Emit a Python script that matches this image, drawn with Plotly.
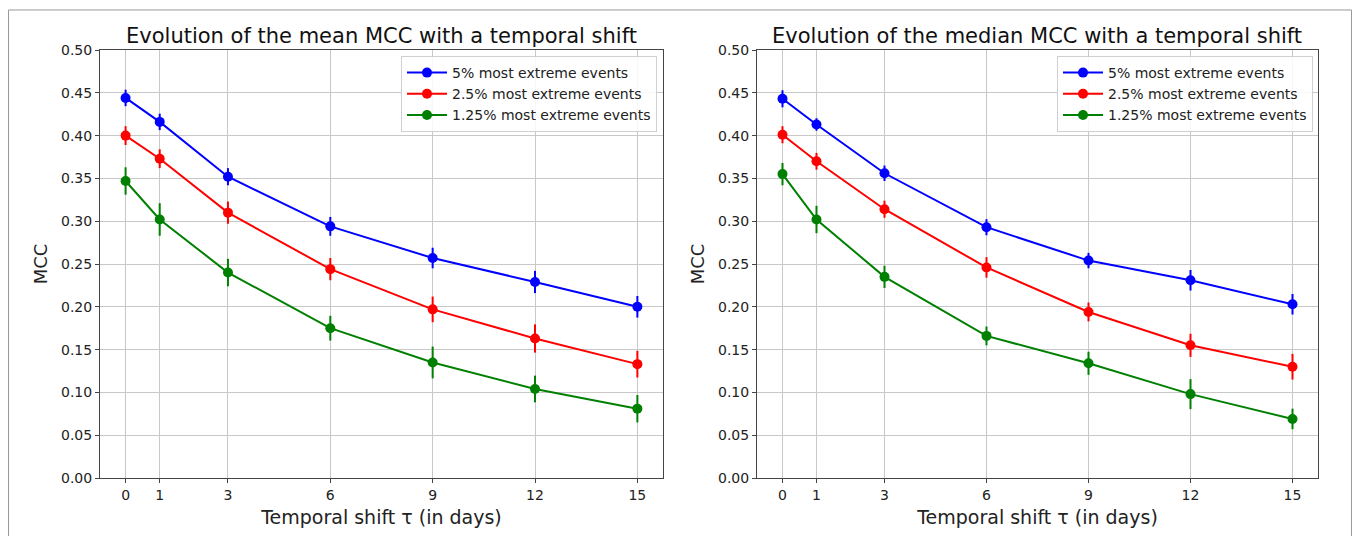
import plotly.graph_objects as go

shifts = [0, 1, 3, 6, 9, 12, 15]
tick_labels = ["0", "1", "3", "6", "9", "12", "15"]
series_names = ["5% most extreme events", "2.5% most extreme events", "1.25% most extreme events"]
colors = ["#0000ff", "#ff0000", "#008000"]

mean_5 = [0.444, 0.416, 0.352, 0.294, 0.257, 0.229, 0.200]
mean_25 = [0.400, 0.373, 0.310, 0.244, 0.197, 0.163, 0.133]
mean_125 = [0.347, 0.302, 0.240, 0.175, 0.135, 0.104, 0.081]
mean_5_err = [0.0096, 0.0096, 0.010, 0.011, 0.012, 0.013, 0.0126]
mean_25_err = [0.011, 0.011, 0.013, 0.013, 0.015, 0.0165, 0.0156]
mean_125_err = [0.016, 0.019, 0.016, 0.0145, 0.0186, 0.0156, 0.016]

median_5 = [0.443, 0.413, 0.356, 0.293, 0.254, 0.231, 0.203]
median_25 = [0.401, 0.370, 0.314, 0.246, 0.194, 0.155, 0.130]
median_125 = [0.355, 0.302, 0.235, 0.166, 0.134, 0.098, 0.069]
median_5_err = [0.010, 0.0073, 0.009, 0.0094, 0.009, 0.012, 0.012]
median_25_err = [0.010, 0.0098, 0.010, 0.012, 0.011, 0.0135, 0.015]
median_125_err = [0.013, 0.016, 0.013, 0.011, 0.0135, 0.0175, 0.012]

titles = ["Evolution of the mean MCC with a temporal shift",
          "Evolution of the median MCC with a temporal shift"]

panels = [
    ([mean_5, mean_25, mean_125], [mean_5_err, mean_25_err, mean_125_err], "x", "y"),
    ([median_5, median_25, median_125], [median_5_err, median_25_err, median_125_err], "x2", "y2"),
]

FONT = "DejaVu Sans, Verdana, sans-serif"
fig = go.Figure()
for p, (vals, errs, xa, ya) in enumerate(panels):
    for i in range(3):
        fig.add_trace(go.Scatter(
            x=shifts, y=vals[i], mode="lines+markers", name=series_names[i],
            legend="legend" if p == 0 else "legend2",
            line=dict(color=colors[i], width=2),
            marker=dict(color=colors[i], size=10, symbol="circle"),
            error_y=dict(type="data", array=errs[i], color=colors[i], thickness=2, width=0),
            xaxis=xa, yaxis=ya,
        ))

axis_common = dict(
    showline=True, mirror=True, linecolor="#444", linewidth=1,
    showgrid=True, gridcolor="#c8c8c8", gridwidth=1, zeroline=False,
    ticks="outside", ticklen=4, tickcolor="#444",
    tickfont=dict(family=FONT, size=14, color="#222"),
)
xcommon = dict(axis_common, range=[-0.75, 15.75], tickvals=shifts, ticktext=tick_labels,
               title=dict(text="Temporal shift τ (in days)", font=dict(family=FONT, size=19, color="#222"), standoff=8))
ycommon = dict(axis_common, range=[0, 0.5], tickvals=[i * 0.05 for i in range(11)],
               tickformat=".2f",
               title=dict(text="MCC", font=dict(family=FONT, size=18, color="#222"), standoff=8))

legend_common = dict(bgcolor="rgba(255,255,255,0.85)", bordercolor="#d0d0d0", borderwidth=1,
                     font=dict(family=FONT, size=14, color="#222"),
                     xanchor="right", yanchor="top", tracegroupgap=0, itemwidth=40)

fig.update_layout(
    width=1344, height=528,
    margin=dict(l=92, r=34, t=42, b=42),
    paper_bgcolor="white", plot_bgcolor="white",
    font=dict(family=FONT, color="#222"),
    xaxis=dict(xcommon, domain=[0, 0.4622], anchor="y"),
    yaxis=dict(ycommon, domain=[0, 1], anchor="x"),
    xaxis2=dict(xcommon, domain=[0.5394, 1], anchor="y2"),
    yaxis2=dict(ycommon, domain=[0, 1], anchor="x2"),
    legend=dict(legend_common, x=0.4573, y=0.986),
    legend2=dict(legend_common, x=0.9959, y=0.986),
    annotations=[
        dict(text=titles[0], x=0.2311, y=1.0, xref="paper", yref="paper", xanchor="center", yanchor="bottom",
             yshift=0, showarrow=False, font=dict(family=FONT, size=21, color="#111")),
        dict(text=titles[1], x=0.7697, y=1.0, xref="paper", yref="paper", xanchor="center", yanchor="bottom",
             yshift=0, showarrow=False, font=dict(family=FONT, size=21, color="#111")),
    ],
    shapes=[dict(type="rect", xref="paper", yref="paper", x0=-0.0751, x1=1.0275, y0=-0.15, y1=1.0935,
                 line=dict(color="#999", width=1), layer="below")],
    showlegend=True,
)

fig.write_html("out.html")
